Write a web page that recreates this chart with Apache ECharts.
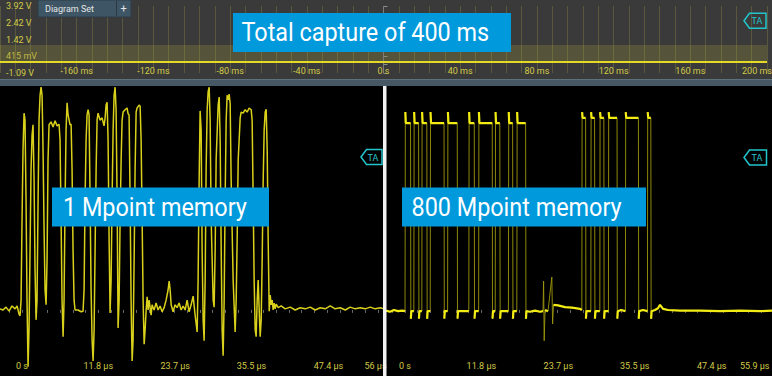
<!DOCTYPE html>
<html><head><meta charset="utf-8">
<script src="https://cdn.jsdelivr.net/npm/echarts@6/dist/echarts.min.js"></script>
<style>html,body{margin:0;padding:0;background:#000;}#c{width:772px;height:376px;}</style>
</head><body><div id="c"></div>
<script>
// ---------- Overview: total capture of 400 ms ----------
const overviewTickValues = [-160, -120, -80, -40, 0, 40, 80, 120, 160, 200];
const overviewTickLabels = ['-160 ms', '-120 ms', '-80 ms', '-40 ms', '0 s', '40 ms', '80 ms', '120 ms', '160 ms', '200 ms'];
const overviewVoltLabels = ['3.92 V', '2.42 V', '1.42 V', '415 mV', '-1.09 V'];
const overviewBurstTimes = [-200,-192,-184,-176,-168,-160,-152,-144,-136,-128,-120,-112,-104,-96,-88,-80,-72,-64,-56,-48,-40,-32,-24,-16,-8,0,8,16,24,32,40,48,56,64,72,80,88,96,104,112,120,128,136,144,152,160,168,176,184,192,200];
const overviewTraceT = [-200, 200];
const overviewTraceV = [-0.27, -0.27];
const overviewBandV = [-0.27, 1.0];

// ---------- Zoomed windows (µs, V) ----------
const leftTickValues = [0, 11.8, 23.7, 35.5, 47.4, 56];
const leftTickLabels = ['0 s', '11.8 µs', '23.7 µs', '35.5 µs', '47.4 µs', '56 µs'];
const rightTickValues = [0, 11.8, 23.7, 35.5, 47.4, 55.9];
const rightTickLabels = ['0 s', '11.8 µs', '23.7 µs', '35.5 µs', '47.4 µs', '55.9 µs'];

const leftT = [-3.41,-2.94,-2.48,-2.01,-1.55,-1.08,-0.77,-0.46,-0.31,-0.15,
0,0.15,0.31,0.46,0.62,0.77,0.93,1.08,1.24,1.39,
1.55,1.70,1.86,2.01,2.17,2.32,2.48,2.63,2.79,2.94,
3.10,3.25,3.41,3.56,3.72,3.87,4.02,4.18,4.49,4.80,
5.11,5.42,5.73,5.88,6.04,6.19,6.35,6.50,6.66,6.81,
6.97,7.12,7.43,7.59,7.74,7.89,8.05,8.20,8.67,9.13,
9.44,9.60,9.75,9.91,10.06,10.22,10.37,10.53,10.68,10.84,
10.99,11.15,11.30,11.46,11.61,11.76,12.07,12.38,12.69,12.85,
13.00,13.16,13.31,13.47,13.62,13.78,13.93,14.09,14.24,14.40,
14.55,14.71,14.86,15.02,15.17,15.33,15.48,15.63,15.94,16.25,
16.41,16.56,16.72,16.87,17.03,17.18,17.34,17.49,17.65,17.80,
18.11,18.27,18.42,18.58,18.73,18.89,19.04,19.20,19.35,19.50,
19.66,19.97,20.12,20.43,20.74,21.05,21.36,21.67,21.98,22.29,
22.60,22.76,22.91,23.07,23.37,23.68,23.99,24.30,24.61,24.92,
25.23,25.54,25.85,26.16,26.47,26.78,27.09,27.24,27.40,27.55,
27.71,27.86,28.02,28.17,28.33,28.48,28.64,28.79,28.95,29.10,
29.26,29.57,29.72,29.88,30.03,30.34,30.50,30.65,30.81,30.96,
31.11,31.27,31.42,31.58,31.73,31.89,32.04,32.20,32.35,32.66,
32.97,33.13,33.28,33.44,33.75,33.90,34.21,34.52,34.83,35.14,
35.45,35.60,35.76,35.91,36.07,36.22,36.38,36.53,36.69,36.84,
37.00,37.15,37.31,37.46,37.62,37.77,37.93,38.08,38.24,38.39,
38.55,38.70,38.85,39.01,39.16,39.32,39.63,40.09,40.71,41.49,
42.26,43.03,43.81,44.58,45.36,46.13,46.90,47.68,48.45,49.23,
50.00,50.77,51.55,52.32,53.10,53.87,54.64,55.42,56.00];
const leftV = [0.07,0.05,0.10,0.03,0.12,0.07,0.12,-0.02,-0.05,0.22,
1.61,2.81,3.45,3.33,1.95,0.22,-0.93,-0.29,1.09,2.47,
3.07,3.25,2.30,0.74,-0.12,0.22,1.95,3.33,3.76,3.90,
3.76,2.81,1.43,0.40,0.14,0.91,2.64,3.25,3.30,3.21,
3.32,3.23,3.26,2.99,1.61,0.22,-0.41,0.22,1.95,3.16,
3.63,3.42,3.25,3.26,2.47,1.09,0.22,0.05,0.05,0.02,
0.03,0.40,1.95,2.99,3.42,3.51,3.42,1.95,0.40,-0.47,
-0.83,-0.29,1.09,2.47,3.33,3.45,3.33,3.37,3.23,3.37,
3.59,3.64,2.99,1.26,0.00,0.57,1.95,3.16,3.76,3.90,
3.51,1.95,-0.26,0.22,1.61,2.64,3.33,3.47,3.51,3.54,
3.44,3.42,1.95,0.22,-0.83,-0.47,0.91,2.47,3.47,3.54,
3.59,3.57,2.99,1.61,0.22,-0.54,-0.29,0.05,0.28,0.05,
0.22,-0.04,0.14,0.05,0.17,0.05,0.12,0.02,0.09,0.22,
0.40,0.55,0.40,0.14,0.02,0.14,0.09,0.17,0.05,0.12,
0.05,0.22,0.02,0.14,0.29,-0.04,-0.33,0.57,2.30,3.49,
3.16,1.09,-0.12,-0.48,0.57,2.47,3.51,3.82,3.90,3.33,
1.61,0.22,0.10,1.09,2.64,3.59,3.73,2.99,1.09,-0.29,
-0.74,0.22,1.95,3.33,3.76,3.68,3.78,3.61,2.30,0.57,
-0.33,0.22,1.26,2.64,3.37,3.47,3.45,3.51,3.47,3.54,
3.51,3.33,1.95,0.57,-0.29,-0.41,0.22,0.57,0.05,-0.41,
-0.12,0.91,2.30,3.16,3.47,3.52,2.81,1.26,0.03,0.31,
0.14,0.22,0.05,0.17,0.07,0.15,0.09,0.12,0.07,0.10,
0.05,0.09,0.07,0.10,0.05,0.09,0.07,0.12,0.07,0.09,
0.05,0.10,0.07,0.09,0.07,0.10,0.07,0.09,0.07];

const rightT = [-2.94,-2.32,-1.70,-1.08,-0.46,0.00,
0.05,0.12,0.85,0.90,0.97,
1.36,1.41,1.48,2.10,2.15,2.23,
2.60,2.64,2.72,3.37,3.42,3.49,
3.89,3.94,4.02,6.03,6.07,6.15,
6.58,6.63,6.71,8.07,8.11,8.19,
9.86,9.91,9.98,10.70,10.74,10.82,
11.38,11.42,11.50,13.48,13.52,13.60,
13.94,13.99,14.06,14.65,14.70,14.78,
15.98,16.03,16.10,16.63,16.68,16.75,
17.28,17.33,17.40,18.64,18.69,18.76,
19.32,20.09,20.87,21.33,
21.42,21.51,21.64,22.10,22.69,22.81,22.95,23.65,24.73,25.81,27.05,
27.33,27.37,27.45,27.91,27.96,28.04,
28.72,28.76,28.84,29.30,29.35,29.43,
30.11,30.15,30.23,30.73,30.77,30.85,
31.44,31.48,31.56,32.77,32.81,32.89,
33.38,
34.06,34.11,34.19,36.07,36.12,36.19,
36.78,
37.47,37.51,37.59,37.99,38.04,38.11,
38.64,39.10,39.41,39.88,40.65,42.50,45.59,48.69,51.78,54.87,56.72];
const rightV = [0.04,0.02,0.05,0.03,0.04,0.03,
3.47,3.28,3.28,-0.10,0.03,
0.03,3.47,3.28,3.28,-0.10,0.03,
0.03,3.47,3.28,3.28,-0.10,0.03,
0.03,3.47,3.28,3.28,-0.10,0.03,
0.03,3.47,3.28,3.28,-0.10,0.03,
0.03,3.47,3.28,3.28,-0.10,0.03,
0.03,3.47,3.28,3.28,-0.10,0.03,
0.03,3.47,3.28,3.28,-0.10,0.03,
0.03,3.47,3.28,3.28,-0.10,0.03,
0.03,3.47,3.28,3.28,-0.10,0.03,
0.02,0.04,0.02,0.03,
0.55,-0.48,0.05,0.03,0.62,-0.19,0.14,0.13,0.10,0.09,0.07,
0.05,3.47,3.37,3.37,-0.10,0.03,
0.03,3.47,3.37,3.37,-0.10,0.03,
0.03,3.47,3.37,3.37,-0.10,0.03,
0.03,3.47,3.37,3.37,-0.10,0.03,
0.05,
0.03,3.47,3.37,3.37,-0.10,0.03,
0.05,
0.03,3.47,3.37,3.37,-0.10,0.03,
0.05,0.08,0.14,0.07,0.05,0.04,0.04,0.03,0.04,0.03,0.04];

// ---------- build ----------
const pair = (T, V) => T.map((t, i) => [t, V[i]]);
const leftData = pair(leftT, leftV);
const rightData = pair(rightT, rightV);
// bold "level" overlay: break the line at fast transitions
const rightLevels = [];
for (let i = 0; i < rightData.length; i++) {
  rightLevels.push(rightData[i]);
  if (i < rightData.length - 1 && Math.abs(rightV[i + 1] - rightV[i]) > 0.3) {
    rightLevels.push([(rightT[i] + rightT[i + 1]) / 2, '-']);
  }
}
const VMIN = -1.09, VMAX = 3.92;
const voltTickPos = overviewVoltLabels.map((_, i) => VMAX - i * (VMAX - VMIN) / (overviewVoltLabels.length - 1));
const voltMinor = [];
for (let i = 0; i <= 8; i++) voltMinor.push(VMAX - i * (VMAX - VMIN) / 8);
const minorStep = 11.8 / 6;
const minorTicks = [];
for (let k = -2; k <= 30; k++) minorTicks.push(+(k * minorStep).toFixed(3));

const LABEL_COLOR = '#d3cb45';
const SMALL_FONT = "'Liberation Sans Narrow', 'Arial Narrow', Roboto, sans-serif";

function fmt(values, labels, pad) {
  return function (v) {
    const i = values.findIndex(x => Math.abs(x - v) < 1e-6);
    if (i < 0) return '';
    if (pad && i === values.length - 1) return '{e|' + labels[i] + '}';
    return labels[i];
  };
}
function richEnd(pad) {
  return { e: { padding: [0, pad, 0, 0], color: LABEL_COLOR, fontSize: 9, fontFamily: SMALL_FONT } };
}

const chart = echarts.init(document.getElementById('c'), null, { renderer: 'svg' });

const zoomX = (gi, min, max, vals, labs, pad) => ({
  type: 'value', gridIndex: gi, min: min, max: max,
  axisLine: { show: false }, splitLine: { show: false },
  axisTick: { show: true, inside: true, length: 3, customValues: minorTicks, lineStyle: { color: '#6a6a6a', width: 1 } },
  axisLabel: { show: true, inside: true, margin: 6, customValues: vals, formatter: fmt(vals, labs, true),
    color: LABEL_COLOR, fontSize: 9, fontFamily: SMALL_FONT, hideOverlap: false, rich: richEnd(pad) }
});
const zoomY = (gi) => ({ type: 'value', gridIndex: gi, min: VMIN, max: VMAX, show: false });

const option = {
  backgroundColor: '#000',
  animation: false,
  grid: [
    { left: 0, top: 6, width: 767, height: 67, containLabel: false, outerBoundsMode: 'none', show: false },
    { left: 0, top: 86, width: 384, height: 290, containLabel: false, outerBoundsMode: 'none', show: false },
    { left: 386, top: 86, width: 386, height: 290, containLabel: false, outerBoundsMode: 'none', show: false }
  ],
  xAxis: [
    { type: 'value', gridIndex: 0, min: -200, max: 200,
      axisLine: { show: false }, splitLine: { show: false }, axisTick: { show: false },
      axisLabel: { show: true, margin: -7, customValues: overviewTickValues,
        formatter: fmt(overviewTickValues, overviewTickLabels, true),
        color: LABEL_COLOR, fontSize: 9, fontFamily: SMALL_FONT, hideOverlap: false, rich: richEnd(20) } },
    zoomX(1, -3.41, 56, leftTickValues, leftTickLabels, 17),
    zoomX(2, -2.94, 56.72, rightTickValues, rightTickLabels, 24)
  ],
  yAxis: [
    { type: 'value', gridIndex: 0, min: VMIN, max: VMAX,
      axisLine: { show: false }, splitLine: { show: false },
      axisTick: { show: true, inside: true, length: 4, customValues: voltMinor, lineStyle: { color: '#8c8c8c' } },
      axisLabel: { show: true, inside: true, margin: 6, customValues: voltTickPos,
        formatter: fmt(voltTickPos, overviewVoltLabels, false),
        color: LABEL_COLOR, fontSize: 9, fontFamily: SMALL_FONT, hideOverlap: false } },
    zoomY(1), zoomY(2)
  ],
  series: [
    { type: 'line', xAxisIndex: 0, yAxisIndex: 0, data: pair(overviewTraceT, overviewTraceV),
      showSymbol: false, lineStyle: { color: '#e2da26', width: 2 }, z: 5,
      markLine: { silent: true, symbol: 'none', label: { show: false },
        lineStyle: { color: 'rgba(190,180,70,0.24)', width: 1, type: 'solid' },
        data: overviewBurstTimes.map(t => ({ xAxis: t })).concat([{ xAxis: 0, lineStyle: { color: '#7c7c7c', width: 1, type: 'solid' } }]) },
      markArea: { silent: true, itemStyle: { color: 'rgba(150,142,55,0.30)' },
        data: [[{ yAxis: overviewBandV[0] }, { yAxis: overviewBandV[1] }]] } },
    { type: 'line', xAxisIndex: 1, yAxisIndex: 1, data: leftData, showSymbol: false, clip: true,
      lineStyle: { color: '#d8d01a', width: 1.5 } },
    { type: 'line', xAxisIndex: 2, yAxisIndex: 2, data: rightData, showSymbol: false, clip: true,
      lineStyle: { color: '#9e970c', width: 0.9 } },
    { type: 'line', xAxisIndex: 2, yAxisIndex: 2, data: rightLevels, showSymbol: false, clip: true, connectNulls: false,
      lineStyle: { color: '#f2ec14', width: 2.2 } }
  ],
  graphic: { elements: [
    { type: 'rect', z: -1, silent: true, shape: { x: 0, y: 0, width: 772, height: 79 }, style: { fill: '#3a3a3a' } },
    { type: 'rect', z: 50, silent: true, shape: { x: 0, y: 79, width: 772, height: 7 }, style: { fill: '#465863' } },
    { type: 'rect', z: 50, silent: true, shape: { x: 0, y: 79, width: 772, height: 1 }, style: { fill: '#5d707c' } },
    // Diagram Set tab
    { type: 'rect', z: 50, silent: true, shape: { x: 38, y: 0, width: 93, height: 17 }, style: { fill: '#3d5565', stroke: '#2c3c46', lineWidth: 1 } },
    { type: 'rect', z: 51, silent: true, shape: { x: 116, y: 1, width: 1, height: 15 }, style: { fill: '#2a3943' } },
    { type: 'text', z: 52, silent: true, x: 45, y: 9, style: { text: 'Diagram Set', fill: '#e6e6e6', font: '9px Roboto', textVerticalAlign: 'middle' } },
    { type: 'text', z: 52, silent: true, x: 123.5, y: 8.5, style: { text: '+', fill: '#e6e6e6', font: '11px Roboto', textAlign: 'center', textVerticalAlign: 'middle' } },
    // divider between panels
    { type: 'rect', z: 60, silent: true, shape: { x: 383, y: 86, width: 3.5, height: 290 }, style: { fill: '#f2f2f2' } },
    // blue captions
    { type: 'rect', z: 70, silent: true, shape: { x: 233, y: 13, width: 278, height: 39 }, style: { fill: '#0099dc' } },
    { type: 'text', z: 71, silent: true, x: 241.5, y: 32, scaleX: 0.9, style: { text: 'Total capture of 400 ms', fill: '#ffffff', font: '26px Roboto', textVerticalAlign: 'middle' } },
    { type: 'rect', z: 70, silent: true, shape: { x: 52, y: 187.5, width: 217, height: 39 }, style: { fill: '#0099dc' } },
    { type: 'text', z: 71, silent: true, x: 63, y: 207, scaleX: 0.9, style: { text: '1 Mpoint memory', fill: '#ffffff', font: '26px Roboto', textVerticalAlign: 'middle' } },
    { type: 'rect', z: 70, silent: true, shape: { x: 402, y: 187.5, width: 244, height: 39 }, style: { fill: '#0099dc' } },
    { type: 'text', z: 71, silent: true, x: 411.5, y: 207, scaleX: 0.9, style: { text: '800 Mpoint memory', fill: '#ffffff', font: '26px Roboto', textVerticalAlign: 'middle' } },
    // trigger level markers
    { type: 'polygon', z: 65, silent: true, shape: { points: [[744, 20.8], [749.5, 13.3], [766, 13.3], [766, 28.3], [749.5, 28.3]] }, style: { fill: 'rgba(0,0,0,0)', stroke: '#22c5cb', lineWidth: 1.5 } },
    { type: 'text', z: 66, silent: true, x: 757, y: 21, style: { text: 'TA', fill: '#22c5cb', font: '9px Roboto', textAlign: 'center', textVerticalAlign: 'middle' } },
    { type: 'polygon', z: 65, silent: true, shape: { points: [[361, 157], [366.5, 149.5], [382, 149.5], [382, 164.5], [366.5, 164.5]] }, style: { fill: 'rgba(0,0,0,0)', stroke: '#22c5cb', lineWidth: 1.5 } },
    { type: 'text', z: 66, silent: true, x: 373, y: 157.5, style: { text: 'TA', fill: '#22c5cb', font: '9px Roboto', textAlign: 'center', textVerticalAlign: 'middle' } },
    { type: 'polygon', z: 65, silent: true, shape: { points: [[744, 157.5], [749.5, 150], [766.5, 150], [766.5, 165], [749.5, 165]] }, style: { fill: 'rgba(0,0,0,0)', stroke: '#22c5cb', lineWidth: 1.5 } },
    { type: 'text', z: 66, silent: true, x: 757, y: 158, style: { text: 'TA', fill: '#22c5cb', font: '9px Roboto', textAlign: 'center', textVerticalAlign: 'middle' } }
  ] }
};
chart.setOption(option);
</script>
</body></html>
